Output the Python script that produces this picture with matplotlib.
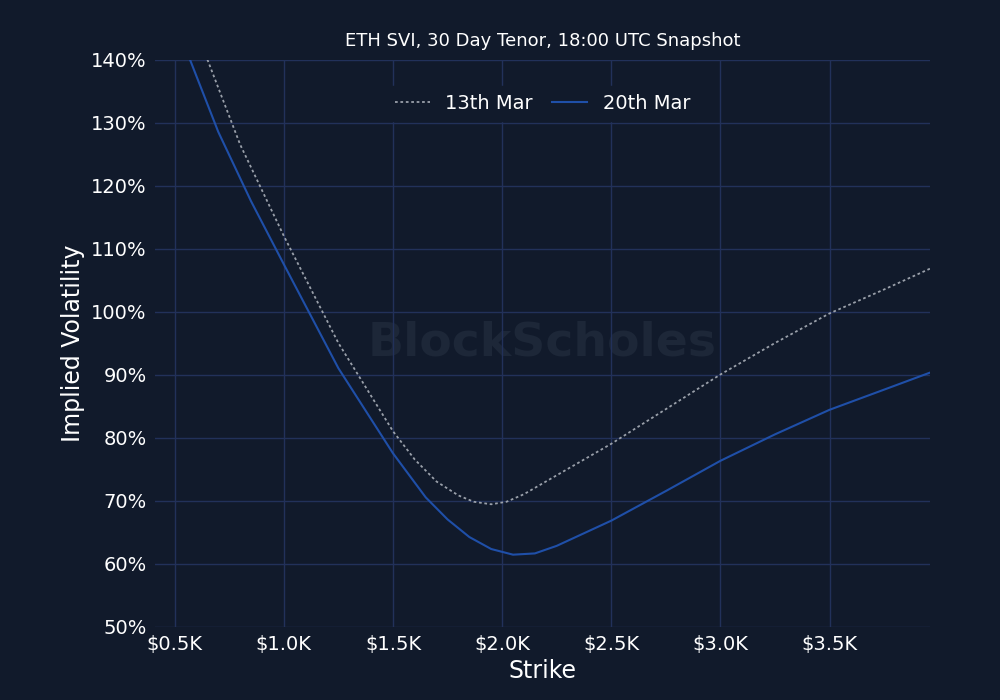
import matplotlib
matplotlib.use("Agg")
import matplotlib.pyplot as plt
from matplotlib.ticker import FuncFormatter

strike_13 = [0.65, 0.8, 1.0, 1.25, 1.5, 1.6, 1.7, 1.8, 1.87, 1.95, 2.02, 2.1, 2.25, 2.5, 2.75, 3.0, 3.25, 3.5, 3.75, 3.96]
vol_13 = [140, 126.5, 112, 95, 81, 76.5, 73, 70.8, 69.8, 69.4, 69.8, 71, 74, 79, 84.5, 90, 95, 99.7, 103.5, 106.8]
strike_20 = [0.57, 0.7, 0.85, 1.0, 1.25, 1.5, 1.65, 1.75, 1.85, 1.95, 2.05, 2.15, 2.25, 2.5, 2.75, 3.0, 3.25, 3.5, 3.75, 3.96]
vol_20 = [140, 128.5, 117.5, 107.5, 91, 77.5, 70.5, 67, 64.2, 62.3, 61.4, 61.6, 62.8, 66.8, 71.5, 76.3, 80.5, 84.4, 87.6, 90.3]
xticks = [0.5, 1.0, 1.5, 2.0, 2.5, 3.0, 3.5]

bg = "#111a2b"
fig = plt.figure(figsize=(10, 7), dpi=100, facecolor=bg)
ax = fig.add_axes([0.155, 0.105, 0.775, 0.81], facecolor=bg)
ax.plot(strike_13, vol_13, color="#9aa0aa", lw=1.3, ls=(0, (1.5, 1.5)), label="13th Mar")
ax.plot(strike_20, vol_20, color="#1f4fa8", lw=1.5, label="20th Mar")
ax.set_xlim(0.41, 3.96)
ax.set_ylim(50, 140)
ax.set_xticks(xticks)
ax.set_yticks(range(50, 141, 10))
ax.xaxis.set_major_formatter(FuncFormatter(lambda v, p: f"${v:.1f}K"))
ax.yaxis.set_major_formatter(FuncFormatter(lambda v, p: f"{v:.0f}%"))
ax.grid(color="#22315a", lw=1)
for s in ax.spines.values():
    s.set_visible(False)
ax.tick_params(colors="white", labelsize=14, length=0, pad=6)
ax.set_xlabel("Strike", color="white", fontsize=17)
ax.set_ylabel("Implied Volatility", color="white", fontsize=17)
ax.set_title("ETH SVI, 30 Day Tenor, 18:00 UTC Snapshot", color="white", fontsize=13, pad=10)
ax.text(0.5, 0.5, "BlockScholes", transform=ax.transAxes, ha="center", va="center",
        fontsize=34, color="#1d2738", fontweight="bold", zorder=0)
leg = ax.legend(loc="upper center", bbox_to_anchor=(0.5, 0.97), ncol=2, frameon=True,
                facecolor=bg, edgecolor=bg, framealpha=1, fontsize=14, handlelength=1.8, columnspacing=1.0)
for t in leg.get_texts():
    t.set_color("white")
fig.savefig("out.png", facecolor=bg)
